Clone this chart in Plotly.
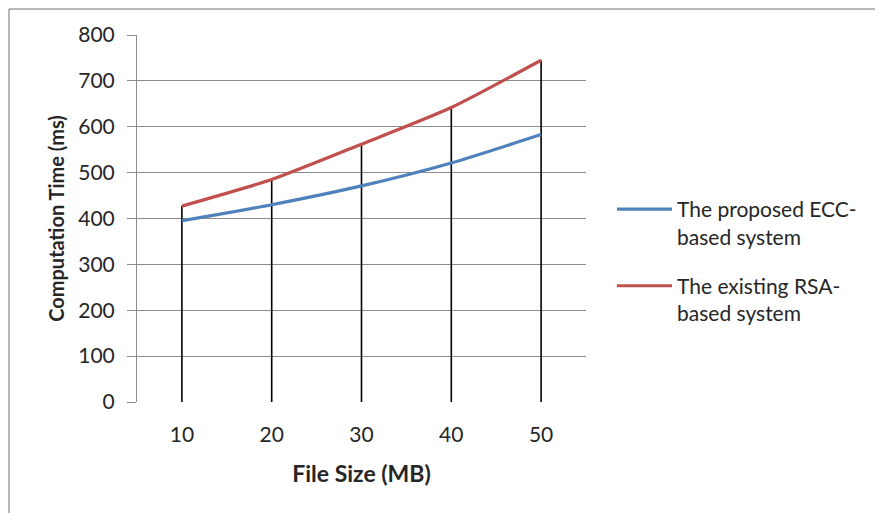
import plotly.graph_objects as go

file_sizes = ["10", "20", "30", "40", "50"]
ecc_times = [395, 430, 471, 521, 583]
rsa_times = [427, 485, 562, 642, 745]
y_ticks = [0, 100, 200, 300, 400, 500, 600, 700, 800]

FONT = "Lato, 'Open Sans', sans-serif"
TXT = "#262626"

fig = go.Figure()

# drop lines from the highest series down to the axis
drop_top = [max(a, b) for a, b in zip(ecc_times, rsa_times)]
fig.add_trace(go.Scatter(
    x=file_sizes, y=drop_top, mode="markers",
    marker=dict(size=1, color="rgba(0,0,0,0)"),
    error_y=dict(type="data", symmetric=False, array=[0]*len(drop_top),
                 arrayminus=drop_top, width=0, thickness=1.6, color="black"),
    showlegend=False, hoverinfo="skip"))

fig.add_trace(go.Scatter(
    x=file_sizes, y=ecc_times, mode="lines", legendgroup="ecc",
    line=dict(color="#4F81BD", width=3.2, shape="spline", smoothing=0.6),
    name="The proposed ECC-<br>based system"))
fig.add_trace(go.Scatter(
    x=file_sizes, y=rsa_times, mode="lines", legendgroup="rsa",
    line=dict(color="#C0504D", width=3.2, shape="spline", smoothing=0.6),
    name="The existing RSA-<br>based system"))

# page body adds an 8px offset; positions below are in reference pixel coords
OFF = 8
PL, PR, PT, PB = 137, 586, 35, 402       # plot area in reference pixels
W, H = 883 - OFF, 513 - OFF
pw, ph = PR - PL, PB - PT

def px(x):
    return (x - PL) / pw

def py(y):
    return (PB - y) / ph

fig.update_layout(
    width=W, height=H,
    margin=dict(l=PL - OFF, r=W - (PR - OFF), t=PT - OFF, b=H - (PB - OFF), autoexpand=False),
    paper_bgcolor="white", plot_bgcolor="white",
    font=dict(family=FONT, size=20, color=TXT),
    xaxis=dict(type="category", range=[-0.5, 4.5],
               showgrid=False, showline=False, ticks="",
               tickfont=dict(size=21, color=TXT), ticklabelstandoff=18,
               title=dict(text="<b>File Size (MB)</b>", font=dict(size=23, color=TXT), standoff=20),
               zeroline=False),
    yaxis=dict(range=[0, 800], tickvals=y_ticks,
               showgrid=True, gridcolor="#8c8c8c", gridwidth=1,
               showline=True, linecolor="#8c8c8c", linewidth=1,
               ticks="outside", ticklen=9, tickcolor="#8c8c8c",
               tickfont=dict(size=21, color=TXT), ticklabelstandoff=8,
               title=dict(text="<b>Computation Time (ms)</b>", font=dict(size=20, color=TXT), standoff=8),
               zeroline=False),
    legend=dict(x=px(612), y=py(189), xanchor="left", yanchor="top",
                font=dict(size=21, color=TXT), tracegroupgap=19, traceorder="grouped",
                valign="top", bgcolor="rgba(0,0,0,0)", itemwidth=55),
    shapes=[
        dict(type="line", xref="paper", yref="paper", x0=px(9), x1=px(883), y0=py(9), y1=py(9),
             line=dict(color="#a0a0a0", width=1.5)),
        dict(type="line", xref="paper", yref="paper", x0=px(9), x1=px(9), y0=py(9), y1=py(513),
             line=dict(color="#a0a0a0", width=1.5)),
    ],
)

fig.write_html("out.html")
